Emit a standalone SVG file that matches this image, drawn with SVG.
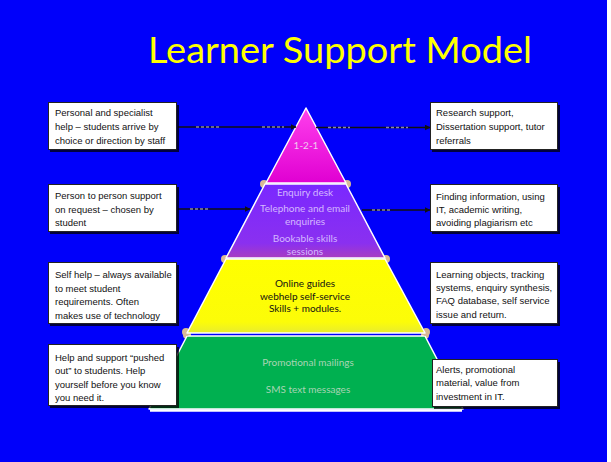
<svg xmlns="http://www.w3.org/2000/svg" width="611" height="462" viewBox="0 0 611 462">
<defs>
<linearGradient id="gPink" x1="0" y1="0" x2="0" y2="1"><stop offset="0" stop-color="#FF40EC"/><stop offset="1" stop-color="#E000D2"/></linearGradient>
<linearGradient id="gPurple" x1="0" y1="0" x2="0" y2="1"><stop offset="0" stop-color="#7A28FF"/><stop offset="0.8" stop-color="#8A30F0"/><stop offset="1" stop-color="#A83CC0"/></linearGradient>
<linearGradient id="gYellow" x1="0" y1="0" x2="0" y2="1"><stop offset="0" stop-color="#FFFF00"/><stop offset="0.85" stop-color="#FCFC08"/><stop offset="1" stop-color="#E8EC30"/></linearGradient>
<marker id="arr" viewBox="0 0 10 10" refX="9" refY="5" markerWidth="6" markerHeight="6" orient="auto" markerUnits="userSpaceOnUse"><path d="M0,0 L10,5 L0,10 z" fill="#111"/></marker>
</defs>
<style>
.box{fill:#fff;stroke:#222;stroke-width:1}
.shadow{fill:#000;opacity:0.75}
.bt{font-family:"Liberation Sans",Arial,sans-serif;font-size:9.5px;fill:#111}
.layer{stroke:#fff;stroke-width:1.5;stroke-linejoin:round}
.pt{font-family:Lato,"Liberation Sans",Arial,sans-serif;font-size:10px;text-anchor:middle}
.blob{fill:#D9B996}
.con{stroke:#111;stroke-width:1.6;fill:none}
.dash{stroke:#8A8A9A;stroke-width:1.6;stroke-dasharray:3 2;fill:none}
</style>
<rect x="0" y="0" width="611" height="462" fill="#fff"/>
<rect x="0" y="0" width="607" height="462" fill="#0000FA"/>
<text x="340" y="63" font-family="Lato, Liberation Sans, Arial, sans-serif" font-size="37" fill="#FFFF00" text-anchor="middle" textLength="384" lengthAdjust="spacingAndGlyphs">Learner Support Model</text>

<g id="pyramid">
<g id="layer-green">
<ellipse class="blob" cx="187" cy="335" rx="4" ry="4"/>
<ellipse class="blob" cx="425" cy="335" rx="4" ry="4"/>
<path class="layer" d="M187,336 L425,336 L463,409 L149,409 Z" fill="#00B050"/>
<line x1="150" y1="410.5" x2="462" y2="410.5" stroke="#fff" stroke-width="2.5"/>
<text class="pt" x="308" y="366" fill="#A8D4B4">Promotional mailings</text>
<text class="pt" x="308" y="393" fill="#A8D4B4">SMS text messages</text>
</g>
<g id="layer-yellow">
<ellipse class="blob" cx="225" cy="259" rx="4" ry="4"/>
<ellipse class="blob" cx="386" cy="259" rx="4" ry="4"/>
<ellipse class="blob" cx="186" cy="332" rx="4" ry="4"/>
<ellipse class="blob" cx="426" cy="332" rx="4" ry="4"/>
<path class="layer" d="M226,259 L385,259 L425,333 L187,333 Z" fill="url(#gYellow)"/>
<text class="pt" x="305" y="287" fill="#111">Online guides</text>
<text class="pt" x="305" y="300" fill="#111">webhelp self-service</text>
<text class="pt" x="305" y="312" fill="#111">Skills + modules.</text>
</g>
<g id="layer-purple">
<ellipse class="blob" cx="264" cy="184" rx="4" ry="4"/>
<ellipse class="blob" cx="347" cy="184" rx="4" ry="4"/>
<path class="layer" d="M265,184 L346,184 L385,258 L226,258 Z" fill="url(#gPurple)"/>
<text class="pt" x="305" y="196" fill="#D4B8FF">Enquiry desk</text>
<text class="pt" x="305" y="212" fill="#D4B8FF">Telephone and email</text>
<text class="pt" x="305" y="225" fill="#D4B8FF">enquiries</text>
<text class="pt" x="305" y="242" fill="#D4B8FF">Bookable skills</text>
<text class="pt" x="305" y="255" fill="#D4B8FF">sessions</text>
</g>
<g id="layer-pink">
<path class="layer" d="M306,108 L346,183 L266,183 Z" fill="url(#gPink)"/>
<text class="pt" x="306" y="149" fill="#F0C8F0">1-2-1</text>
</g>
</g>

<g id="connectors">
<line class="con" x1="178" y1="127" x2="296" y2="127" marker-end="url(#arr)"/>
<line class="dash" x1="196" y1="127" x2="220" y2="127"/>
<line class="dash" x1="262" y1="127" x2="284" y2="127"/>
<line class="con" x1="316" y1="127.5" x2="430" y2="127.5" marker-end="url(#arr)"/>
<line class="dash" x1="328" y1="127.5" x2="350" y2="127.5"/>
<line class="dash" x1="386" y1="127.5" x2="408" y2="127.5"/>
<line class="con" x1="178" y1="209" x2="250" y2="209" marker-end="url(#arr)"/>
<line class="dash" x1="190" y1="209" x2="210" y2="209"/>
<line class="con" x1="362" y1="210" x2="430" y2="210" marker-end="url(#arr)"/>
<line class="dash" x1="372" y1="210" x2="392" y2="210"/>
</g>

<g id="box-l1">
<rect class="shadow" x="50" y="105" width="129" height="47"/>
<rect class="box" x="48.5" y="102.5" width="128" height="47"/>
<text class="bt" x="55" y="116">Personal and specialist</text>
<text class="bt" x="55" y="130">help – students arrive by</text>
<text class="bt" x="55" y="144">choice or direction by staff</text>
</g>
<g id="box-r1">
<rect class="shadow" x="432" y="105" width="128" height="47"/>
<rect class="box" x="430.5" y="102.5" width="127" height="47"/>
<text class="bt" x="436" y="116">Research support,</text>
<text class="bt" x="436" y="130">Dissertation support, tutor</text>
<text class="bt" x="436" y="144">referrals</text>
</g>
<g id="box-l2">
<rect class="shadow" x="50" y="187" width="129" height="47"/>
<rect class="box" x="48.5" y="184.5" width="128" height="47"/>
<text class="bt" x="55" y="199">Person to person support</text>
<text class="bt" x="55" y="213">on request – chosen by</text>
<text class="bt" x="55" y="226">student</text>
</g>
<g id="box-r2">
<rect class="shadow" x="432" y="187" width="128" height="47"/>
<rect class="box" x="430.5" y="184.5" width="127" height="47"/>
<text class="bt" x="436" y="200">Finding information, using</text>
<text class="bt" x="436" y="213">IT, academic writing,</text>
<text class="bt" x="436" y="226">avoiding plagiarism etc</text>
</g>
<g id="box-l3">
<rect class="shadow" x="50" y="265" width="129" height="61"/>
<rect class="box" x="48.5" y="262.5" width="128" height="61"/>
<text class="bt" x="55" y="278">Self help – always available</text>
<text class="bt" x="55" y="292">to meet student</text>
<text class="bt" x="55" y="305">requirements. Often</text>
<text class="bt" x="55" y="319">makes use of technology</text>
</g>
<g id="box-r3">
<rect class="shadow" x="432" y="265" width="128" height="61"/>
<rect class="box" x="430.5" y="262.5" width="127" height="61"/>
<text class="bt" x="436" y="278">Learning objects, tracking</text>
<text class="bt" x="436" y="291">systems, enquiry synthesis,</text>
<text class="bt" x="436" y="304">FAQ database, self service</text>
<text class="bt" x="436" y="318">issue and return.</text>
</g>
<g id="box-l4">
<rect class="shadow" x="50" y="347" width="129" height="61"/>
<rect class="box" x="48.5" y="344.5" width="128" height="61"/>
<text class="bt" x="55" y="361">Help and support “pushed</text>
<text class="bt" x="55" y="374">out” to students. Help</text>
<text class="bt" x="55" y="388">yourself before you know</text>
<text class="bt" x="55" y="401">you need it.</text>
</g>
<g id="box-r4">
<rect class="shadow" x="434" y="362" width="126" height="47"/>
<rect class="box" x="432.5" y="359.5" width="125" height="47"/>
<text class="bt" x="436" y="373">Alerts, promotional</text>
<text class="bt" x="436" y="386">material, value from</text>
<text class="bt" x="436" y="400">investment in IT.</text>
</g>
</svg>
